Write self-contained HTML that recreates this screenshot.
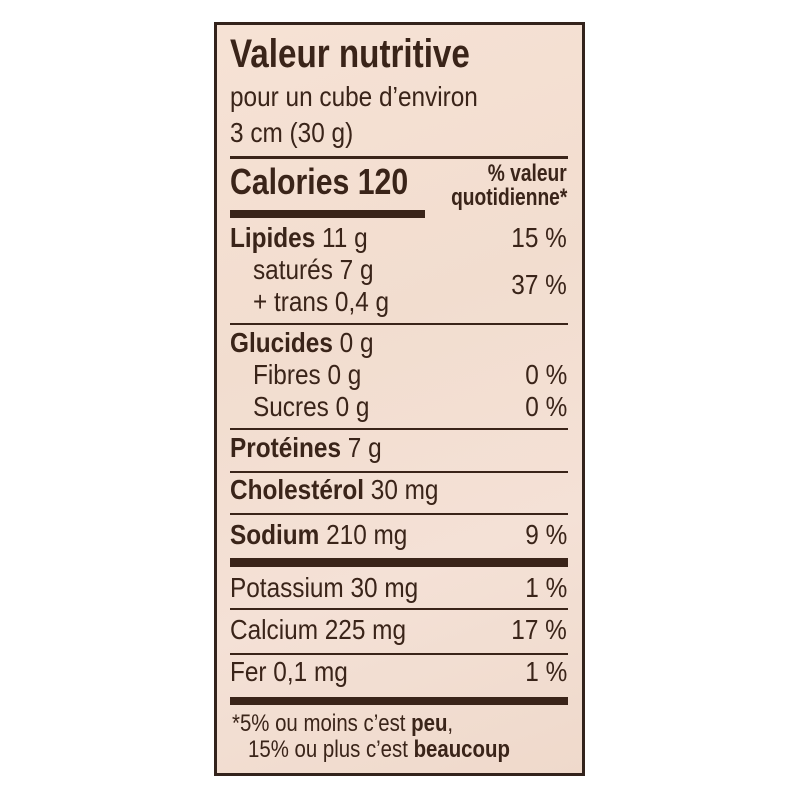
<!DOCTYPE html>
<html><head><meta charset="utf-8"><style>
html,body{margin:0;padding:0;background:#fff;}
#c{position:relative;width:800px;height:800px;overflow:hidden;background:#fff;}
#box{position:absolute;left:214px;top:22px;width:365px;height:748px;border:3px solid #33231c;background:linear-gradient(160deg,#f6e2d5 0%,#f2ddcf 40%,#f4e1d6 70%,#efd9cb 100%);}
.t{position:absolute;line-height:1;white-space:nowrap;color:#3a2419;font-family:"Liberation Sans",sans-serif;font-size:28px;transform:scaleX(0.87);transform-origin:left top;}
.b{font-weight:bold;}
.r{text-align:right;right:233px;transform-origin:right top;}
.l{position:absolute;background:#3a2419;left:230px;width:338px;}
</style></head><body><div id="c">
<div id="box"></div>
<div class="t b" style="left:230px;top:34px;font-size:40px;transform:scaleX(0.83)">Valeur nutritive</div>
<div class="t" style="left:230px;top:83px">pour un cube d’environ</div>
<div class="t" style="left:230px;top:119px">3 cm (30 g)</div>
<div class="l" style="top:156px;height:3px"></div>
<div class="t b" style="left:230px;top:164px;font-size:36px;transform:scaleX(0.84)">Calories 120</div>
<div class="t b r" style="top:162px;font-size:24px;transform:scaleX(0.8)">% valeur</div>
<div class="t b r" style="top:186px;font-size:24px;transform:scaleX(0.8)">quotidienne*</div>
<div class="l" style="top:210px;height:8px;width:195px"></div>
<div class="t" style="left:230px;top:224px"><b>Lipides</b> 11 g</div>
<div class="t r" style="top:224px">15 %</div>
<div class="t" style="left:253px;top:256px">saturés 7 g</div>
<div class="t" style="left:253px;top:288px">+ trans 0,4 g</div>
<div class="t r" style="top:271px">37 %</div>
<div class="l" style="top:323px;height:2px"></div>
<div class="t" style="left:230px;top:329px"><b>Glucides</b> 0 g</div>
<div class="t" style="left:253px;top:361px">Fibres 0 g</div>
<div class="t r" style="top:361px">0 %</div>
<div class="t" style="left:253px;top:393px">Sucres 0 g</div>
<div class="t r" style="top:393px">0 %</div>
<div class="l" style="top:428px;height:2px"></div>
<div class="t" style="left:230px;top:434px"><b>Protéines</b> 7 g</div>
<div class="l" style="top:471px;height:2px"></div>
<div class="t" style="left:230px;top:476px"><b>Cholestérol</b> 30 mg</div>
<div class="l" style="top:513px;height:2px"></div>
<div class="t" style="left:230px;top:521px"><b>Sodium</b> 210 mg</div>
<div class="t r" style="top:521px">9 %</div>
<div class="l" style="top:558px;height:9px"></div>
<div class="t" style="left:230px;top:574px">Potassium 30 mg</div>
<div class="t r" style="top:574px">1 %</div>
<div class="l" style="top:608px;height:2px"></div>
<div class="t" style="left:230px;top:616px">Calcium 225 mg</div>
<div class="t r" style="top:616px">17 %</div>
<div class="l" style="top:653px;height:2px"></div>
<div class="t" style="left:230px;top:658px">Fer 0,1 mg</div>
<div class="t r" style="top:658px">1 %</div>
<div class="l" style="top:697px;height:8px"></div>
<div class="t" style="left:232px;top:712px;font-size:24px;transform:scaleX(0.85)">*5% ou moins c’est <b>peu</b>,</div>
<div class="t" style="left:248px;top:738px;font-size:24px;transform:scaleX(0.85)">15% ou plus c’est <b>beaucoup</b></div>
</div></body></html>
